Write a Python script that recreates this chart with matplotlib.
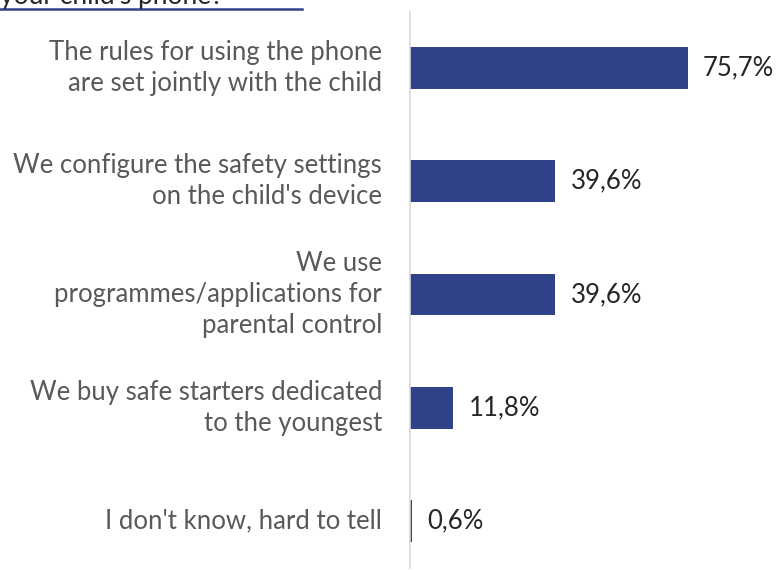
import matplotlib
matplotlib.use("Agg")
import matplotlib.pyplot as plt

categories = [
    "The rules for using the phone\nare set jointly with the child",
    "We configure the safety settings\non the child's device",
    "We use\nprogrammes/applications for\nparental control",
    "We buy safe starters dedicated\nto the youngest",
    "I don't know, hard to tell",
]
values = [75.7, 39.6, 39.6, 11.8, 0.6]
value_labels = ["75,7%", "39,6%", "39,6%", "11,8%", "0,6%"]

W, H = 777, 570
fig = plt.figure(figsize=(W / 100, H / 100), dpi=100)
plt.rcParams["font.family"] = ["Lato", "DejaVu Sans"]

# axes: left edge at the vertical axis line
ax = fig.add_axes([410 / W, 2 / H, (W - 410) / W, 556 / H])
ypos = list(range(len(categories)))
ax.barh(ypos, values, height=0.37, color="#2F428A")
ax.set_xlim(0, 100)
ax.set_ylim(4.415, -0.494)

for y, v, lab in zip(ypos, values, value_labels):
    ax.annotate(lab, (v, y), xytext=(11, 0), textcoords="offset points",
                va="center", ha="left", fontsize=18.5, color="#262626")
    ax.annotate(categories[y], (0, y), xytext=(-20, 0), textcoords="offset points",
                va="center", ha="right", fontsize=18.5, color="#595959",
                linespacing=1.3, annotation_clip=False)

for s in ["top", "right", "bottom"]:
    ax.spines[s].set_visible(False)
ax.spines["left"].set_color("#d9d9d9")
ax.spines["left"].set_linewidth(1.2)
ax.set_xticks([])
ax.set_yticks([])

# heading cut by the top edge, with its underline
fig.text(0, 1 - 4 / H, "your child's phone?", fontsize=19, color="#262626",
         ha="left", va="baseline")
fig.add_artist(plt.Line2D([0, 302 / W], [1 - 8.5 / H, 1 - 8.5 / H],
                          color="#2F428A", linewidth=1.8))

fig.savefig("out.png", dpi=100)
